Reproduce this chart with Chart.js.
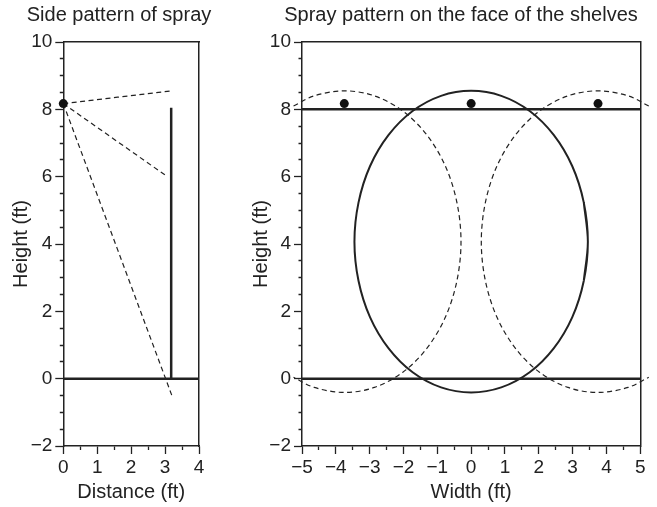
<!DOCTYPE html>
<html>
<head>
    <title>Spray pattern</title>
    <script src="https://cdn.jsdelivr.net/npm/chart.js"></script>
    <style>
      html, body { margin: 0; padding: 0; background: #fff; overflow: hidden; width: 657px; height: 507px; }
      canvas { position: absolute; top: 0; }
      #side { left: 0; }
      #face { left: 240px; }
    </style>
</head>
<body>
    <canvas id="side" width="238" height="507"></canvas>
    <canvas id="face" width="442" height="507"></canvas>

    <script>
    // ---- side view (ft) ----
    const sideNozzle = [[0, 8.17]];
    const rayTop = [[0, 8.17], [3.2, 8.55]];
    const rayMid = [[0, 8.17], [3.07, 6.0]];
    const rayLow = [[0, 8.17], [3.2, -0.5]];
    const shelfFace = [[3.18, 0], [3.18, 8.05]];
    const floorSide = [[0, 0], [4, 0]];

    // ---- face of the shelves (ft) ----
    const faceNozzles = [[-3.75, 8.17], [0, 8.17], [3.75, 8.17]];
    const shelfTop = [[-5, 8], [5, 8]];
    const shelfBottom = [[-5, 0], [5, 0]];
    const sprayCenter = [
      [3.33, 2.91], [3.45, 4.07], [3.33, 5.23], [2.99, 6.31], [2.44, 7.24], [1.73, 7.95], [0.89, 8.40],
      [0, 8.55], [-0.89, 8.40], [-1.73, 7.95], [-2.44, 7.24], [-2.99, 6.31], [-3.33, 5.23],
      [-3.45, 4.07], [-3.33, 2.91], [-2.99, 1.83], [-2.44, 0.90], [-1.73, 0.19], [-0.89, -0.26],
      [0, -0.41], [0.89, -0.26], [1.73, 0.19], [2.44, 0.90], [2.99, 1.83], [3.33, 2.91],
      [3.45, 4.07], [3.33, 5.23]
    ];
    const sprayLeft = [
      [-5.25, 8.10], [-4.64, 8.40], [-3.75, 8.55], [-2.86, 8.40], [-2.02, 7.95], [-1.31, 7.24],
      [-0.76, 6.31], [-0.42, 5.23], [-0.30, 4.07], [-0.42, 2.91], [-0.76, 1.83], [-1.31, 0.90],
      [-2.02, 0.19], [-2.86, -0.26], [-3.75, -0.41], [-4.64, -0.26], [-5.25, 0.04]
    ];
    const sprayRight = [
      [5.25, 8.10], [4.64, 8.40], [3.75, 8.55], [2.86, 8.40], [2.02, 7.95], [1.31, 7.24],
      [0.76, 6.31], [0.42, 5.23], [0.30, 4.07], [0.42, 2.91], [0.76, 1.83], [1.31, 0.90],
      [2.02, 0.19], [2.86, -0.26], [3.75, -0.41], [4.64, -0.26], [5.25, 0.04]
    ];

    // tick labels
    const heightLabels = [-2, 0, 2, 4, 6, 8, 10];
    const distanceLabels = [0, 1, 2, 3, 4];
    const widthLabels = [-5, -4, -3, -2, -1, 0, 1, 2, 3, 4, 5];

    const ink = '#222';
    const FONT = "'Liberation Sans', Arial, sans-serif";
    const pts = arr => arr.map(p => ({x: p[0], y: p[1]}));
    const fmt = v => v < 0 ? '\u2212' + Math.abs(v) : String(v);

    function solid(data, w) {
      return { data: pts(data), showLine: true, borderColor: ink, borderWidth: w, pointRadius: 0, clip: false };
    }
    function dashed(data) {
      return { data: pts(data), showLine: true, borderColor: ink, borderWidth: 1.2, borderDash: [5, 3.5],
               pointRadius: 0, clip: false, tension: 0.33, capBezierPoints: false };
    }
    function dots(data) {
      return { data: pts(data), showLine: false, pointRadius: 4.5, pointBackgroundColor: '#111',
               pointBorderWidth: 0, clip: false };
    }

    function axis(pos, min, max, labels, title, size, titlePad) {
      const horiz = pos === 'bottom';
      return {
        type: 'linear', position: pos, min: min, max: max,
        afterFit: s => { if (horiz) s.height = size; else s.width = size; },
        border: { display: true, color: ink, width: 1.5 },
        grid: {
          drawOnChartArea: false, drawTicks: true, tickLength: 8, tickColor: ink, tickWidth: 1.3,
          // minor ticks: only the part next to the axis line
          tickBorderDash: c => labels.includes(c.tick.value) ? [] : (horiz ? [3.5, 50] : [0, 4.5, 3.5, 50])
        },
        ticks: {
          stepSize: 0.5, autoSkip: false, maxRotation: 0, padding: horiz ? 2 : 3, color: ink,
          font: { family: FONT, size: 19 },
          callback: v => labels.includes(v) ? fmt(v) : ''
        },
        title: { display: true, text: title, color: ink, font: { family: FONT, size: 20 },
                 padding: { top: titlePad, bottom: titlePad } }
      };
    }
    // top and right sides of the frame; the right one also holds the space to the canvas edge
    function frame(pos, size) {
      return {
        type: 'linear', position: pos, display: true,
        afterFit: s => { if (pos === 'top') s.height = size; else s.width = size; },
        border: { display: true, color: ink, width: 1.5 },
        grid: { display: false },
        ticks: { display: false }
      };
    }
    function opts(title, xAxis, yAxis, padRight) {
      return {
        responsive: false, animation: false,
        layout: { padding: 0 },
        plugins: {
          legend: { display: false }, tooltip: { enabled: false },
          title: { display: true, text: title, color: ink, font: { family: FONT, size: 20, weight: 'normal' },
                   padding: { top: 3, bottom: 15 } }
        },
        scales: { x: xAxis, y: yAxis, x2: frame('top', 0), y2: frame('right', padRight) }
      };
    }

    new Chart(document.getElementById('side'), {
      type: 'scatter',
      data: { datasets: [
        dots(sideNozzle),
        solid(shelfFace, 2.5),
        solid(floorSide, 2.5),
        dashed(rayTop), dashed(rayMid), dashed(rayLow)
      ] },
      options: opts('Side pattern of spray',
        axis('bottom', 0, 4, distanceLabels, 'Distance (ft)', 61, 3),
        axis('left', -2, 10, heightLabels, 'Height (ft)', 63.3, 9.5), 39)
    });

    new Chart(document.getElementById('face'), {
      type: 'scatter',
      data: { datasets: [
        dots(faceNozzles),
        solid(shelfTop, 2.5),
        solid(shelfBottom, 2.5),
        Object.assign(solid(sprayCenter, 2), { tension: 0.33, capBezierPoints: false }),
        dashed(sprayLeft), dashed(sprayRight)
      ] },
      options: opts('Spray pattern on the face of the shelves',
        axis('bottom', -5, 5, widthLabels, 'Width (ft)', 61, 3),
        axis('left', -2, 10, heightLabels, 'Height (ft)', 62, 9), 41.7)
    });
    </script>
</body>
</html>
